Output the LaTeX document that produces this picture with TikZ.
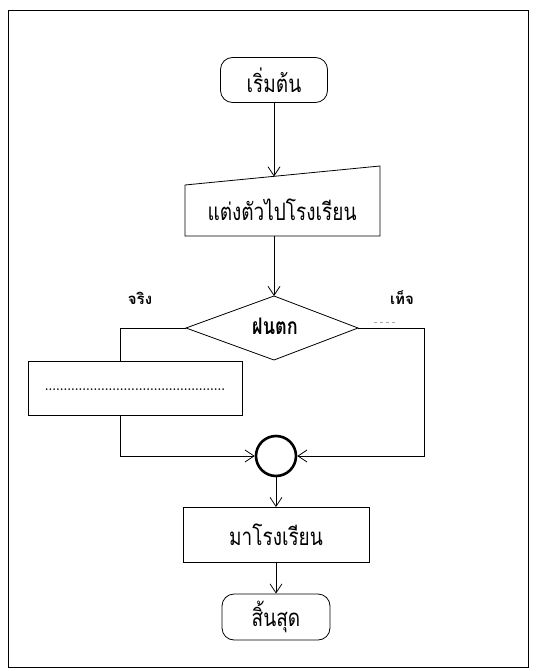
\documentclass[tikz,border=0pt]{standalone}
\usepackage{fontspec}
\newfontfamily\thaifont[Script=Thai]{Loma}
\usetikzlibrary{arrows.meta,shapes.geometric}
\newcommand{\tall}[1]{\scalebox{0.95}[1.2]{#1}}
\begin{document}
\begin{tikzpicture}[x=1pt,y=-1pt,
  line width=0.8pt,
  arr/.style={-{Straight Barb[length=9pt,width=12pt,line width=0.8pt]}},
  txt/.style={font=\thaifont\fontsize{20}{22}\selectfont,inner sep=0pt},
  lbl/.style={font=\thaifont\bfseries\fontsize{15}{17}\selectfont,inner sep=0pt},
  term/.style={draw,rounded corners=12pt,minimum width=107pt,minimum height=45pt,txt},
  procbox/.style={draw,minimum width=186pt,minimum height=55pt,txt}]
\useasboundingbox (0,0) rectangle (544,671);
\draw (8,10) rectangle (528,667);

% start
\node[term] (start) at (274,80) {\tall{เริ่มต้น}};

% manual input
\coordinate (m1) at (185,185);
\coordinate (m2) at (380,166);
\coordinate (m3) at (380,236);
\coordinate (m4) at (185,236);
\draw (m1) -- (m2) -- (m3) -- (m4) -- cycle;
\node[txt] (dress) at (282,210) {\tall{แต่งตัวไปโรงเรียน}};
\coordinate (mtop) at (274,176.5);
\coordinate (mbot) at (274,236);
\draw[arr] (start.south) -- (mtop);

% decision
\coordinate (dT) at (274,296);
\coordinate (dL) at (186,328);
\coordinate (dR) at (358,328);
\coordinate (dB) at (274,360);
\draw (dT) -- (dR) -- (dB) -- (dL) -- cycle;
\node[font=\thaifont\bfseries\fontsize{19}{22}\selectfont,inner sep=0pt] (rain) at (275,326) {\tall{ฝนตก}};
\draw[arr] (mbot) -- (dT);

\node[lbl] (yes) at (140,298) {จริง};
\node[lbl] (no) at (402,298) {เท็จ};
\draw[gray!70,line width=0.7pt,dash pattern=on 3pt off 3pt] (374,322) -- (395,322);

% true branch box
\node[draw,minimum width=214pt,minimum height=54pt,inner sep=0pt] (act) at (135,388) {};
\node[font=\fontsize{12}{14}\selectfont\bfseries,inner sep=0pt] (dots) at (135,390) {................................................};

% connector circle
\node[draw,circle,line width=2.6pt,minimum size=40pt,inner sep=0pt] (join) at (276,456) {};

\coordinate (lc1) at (120,328);
\coordinate (lc2) at (120,456);
\coordinate (rc1) at (424,328);
\coordinate (rc2) at (424,456);
\draw (dL) -- (lc1) -- (act.north -| lc1);
\draw[arr] (act.south -| lc1) -- (lc2) -- (join.west);
\draw[arr] (dR) -- (rc1) -- (rc2) -- (join.east);

% process
\node[procbox] (school) at (276,535) {\tall{มาโรงเรียน}};
\draw[arr] (join.south) -- (school.north);

% end
\node[term,minimum width=108pt,minimum height=46pt] (stop) at (276,617) {\tall{สิ้นสุด}};
\draw[arr] (school.south) -- (stop.north);
\end{tikzpicture}
\end{document}
